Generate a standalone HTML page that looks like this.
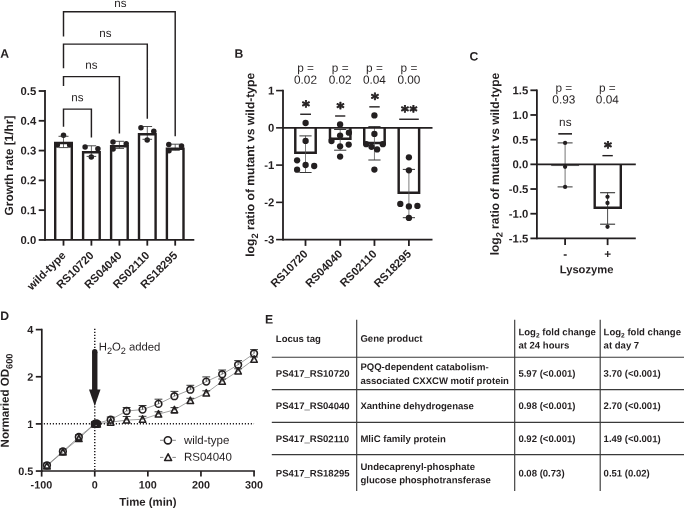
<!DOCTYPE html>
<html lang="en">
<head>
<meta charset="utf-8">
<title>Figure</title>
<style>
html,body{margin:0;padding:0;background:#fff;}
body{width:685px;height:509px;overflow:hidden;}
svg{display:block;font-family:"Liberation Sans",Arial,Helvetica,sans-serif;text-rendering:geometricPrecision;}
</style>
</head>
<body>
<svg width="685" height="509" viewBox="0 0 685 509">
<rect x="0" y="0" width="685" height="509" fill="#ffffff" stroke="none"/>
<g id="panelA">
<text transform="translate(0.20 57.70) rotate(0.03)" font-size="12.2" font-weight="bold" text-anchor="start" fill="#231f20" >A</text>
<path d="M55.20,239.95 L55.20,143.00 L71.80,143.00 L71.80,239.95" fill="#fff" stroke="#231f20" stroke-width="2.4" stroke-linejoin="miter"/>
<path d="M83.10,239.95 L83.10,152.30 L99.70,152.30 L99.70,239.95" fill="#fff" stroke="#231f20" stroke-width="2.4" stroke-linejoin="miter"/>
<path d="M111.10,239.95 L111.10,146.20 L127.70,146.20 L127.70,239.95" fill="#fff" stroke="#231f20" stroke-width="2.4" stroke-linejoin="miter"/>
<path d="M139.00,239.95 L139.00,134.30 L155.60,134.30 L155.60,239.95" fill="#fff" stroke="#231f20" stroke-width="2.4" stroke-linejoin="miter"/>
<path d="M166.90,239.95 L166.90,148.70 L183.50,148.70 L183.50,239.95" fill="#fff" stroke="#231f20" stroke-width="2.4" stroke-linejoin="miter"/>
<circle cx="63.50" cy="135.20" r="2.75" fill="#231f20"/>
<circle cx="57.30" cy="145.00" r="2.75" fill="#231f20"/>
<circle cx="69.70" cy="145.00" r="2.75" fill="#231f20"/>
<circle cx="85.10" cy="147.10" r="2.75" fill="#231f20"/>
<circle cx="97.90" cy="148.70" r="2.75" fill="#231f20"/>
<circle cx="91.30" cy="157.00" r="2.75" fill="#231f20"/>
<circle cx="113.00" cy="141.90" r="2.75" fill="#231f20"/>
<circle cx="113.10" cy="149.00" r="2.75" fill="#231f20"/>
<circle cx="126.20" cy="143.70" r="2.75" fill="#231f20"/>
<circle cx="140.95" cy="127.80" r="2.75" fill="#231f20"/>
<circle cx="153.80" cy="131.30" r="2.75" fill="#231f20"/>
<circle cx="147.20" cy="140.00" r="2.75" fill="#231f20"/>
<circle cx="168.80" cy="144.60" r="2.75" fill="#231f20"/>
<circle cx="169.00" cy="150.80" r="2.75" fill="#231f20"/>
<circle cx="181.50" cy="145.90" r="2.75" fill="#231f20"/>
<line x1="63.50" y1="136.30" x2="63.50" y2="147.60" stroke="#222" stroke-width="0.68" />
<line x1="58.50" y1="136.30" x2="68.50" y2="136.30" stroke="#333" stroke-width="0.8800000000000001" />
<line x1="58.50" y1="147.60" x2="68.50" y2="147.60" stroke="#333" stroke-width="0.8800000000000001" />
<line x1="91.40" y1="145.80" x2="91.40" y2="156.40" stroke="#222" stroke-width="0.68" />
<line x1="86.60" y1="145.80" x2="96.20" y2="145.80" stroke="#333" stroke-width="0.8800000000000001" />
<line x1="86.60" y1="156.40" x2="96.20" y2="156.40" stroke="#333" stroke-width="0.8800000000000001" />
<line x1="119.40" y1="141.30" x2="119.40" y2="148.40" stroke="#222" stroke-width="0.68" />
<line x1="114.80" y1="141.30" x2="124.00" y2="141.30" stroke="#333" stroke-width="0.8800000000000001" />
<line x1="114.80" y1="148.40" x2="124.00" y2="148.40" stroke="#333" stroke-width="0.8800000000000001" />
<line x1="147.30" y1="126.50" x2="147.30" y2="139.30" stroke="#222" stroke-width="0.68" />
<line x1="142.50" y1="126.50" x2="152.10" y2="126.50" stroke="#333" stroke-width="0.8800000000000001" />
<line x1="142.50" y1="139.30" x2="152.10" y2="139.30" stroke="#333" stroke-width="0.8800000000000001" />
<line x1="175.20" y1="144.20" x2="175.20" y2="150.30" stroke="#222" stroke-width="0.68" />
<line x1="170.60" y1="144.20" x2="179.80" y2="144.20" stroke="#333" stroke-width="0.8800000000000001" />
<line x1="170.60" y1="150.30" x2="179.80" y2="150.30" stroke="#333" stroke-width="0.8800000000000001" />
<line x1="45.00" y1="90.10" x2="45.00" y2="240.85" stroke="#231f20" stroke-width="1.8" />
<line x1="45.00" y1="239.95" x2="194.30" y2="239.95" stroke="#231f20" stroke-width="1.8" />
<line x1="38.70" y1="239.95" x2="45.00" y2="239.95" stroke="#231f20" stroke-width="1.8" />
<text transform="translate(36.30 243.95) rotate(0.03)" font-size="11.3" font-weight="bold" text-anchor="end" fill="#231f20" >0.0</text>
<line x1="38.70" y1="210.16" x2="45.00" y2="210.16" stroke="#231f20" stroke-width="1.8" />
<text transform="translate(36.30 214.16) rotate(0.03)" font-size="11.3" font-weight="bold" text-anchor="end" fill="#231f20" >0.1</text>
<line x1="38.70" y1="180.37" x2="45.00" y2="180.37" stroke="#231f20" stroke-width="1.8" />
<text transform="translate(36.30 184.37) rotate(0.03)" font-size="11.3" font-weight="bold" text-anchor="end" fill="#231f20" >0.2</text>
<line x1="38.70" y1="150.58" x2="45.00" y2="150.58" stroke="#231f20" stroke-width="1.8" />
<text transform="translate(36.30 154.58) rotate(0.03)" font-size="11.3" font-weight="bold" text-anchor="end" fill="#231f20" >0.3</text>
<line x1="38.70" y1="120.79" x2="45.00" y2="120.79" stroke="#231f20" stroke-width="1.8" />
<text transform="translate(36.30 124.79) rotate(0.03)" font-size="11.3" font-weight="bold" text-anchor="end" fill="#231f20" >0.4</text>
<line x1="38.70" y1="91.00" x2="45.00" y2="91.00" stroke="#231f20" stroke-width="1.8" />
<text transform="translate(36.30 95.00) rotate(0.03)" font-size="11.3" font-weight="bold" text-anchor="end" fill="#231f20" >0.5</text>
<line x1="63.50" y1="239.95" x2="63.50" y2="245.65" stroke="#231f20" stroke-width="1.8" />
<text transform="translate(66.50 256.05) rotate(-45)" font-size="11.3" font-weight="bold" text-anchor="end" fill="#231f20">wild-type</text>
<line x1="91.40" y1="239.95" x2="91.40" y2="245.65" stroke="#231f20" stroke-width="1.8" />
<text transform="translate(94.40 256.05) rotate(-45)" font-size="11.3" font-weight="bold" text-anchor="end" fill="#231f20">RS10720</text>
<line x1="119.40" y1="239.95" x2="119.40" y2="245.65" stroke="#231f20" stroke-width="1.8" />
<text transform="translate(122.40 256.05) rotate(-45)" font-size="11.3" font-weight="bold" text-anchor="end" fill="#231f20">RS04040</text>
<line x1="147.30" y1="239.95" x2="147.30" y2="245.65" stroke="#231f20" stroke-width="1.8" />
<text transform="translate(150.30 256.05) rotate(-45)" font-size="11.3" font-weight="bold" text-anchor="end" fill="#231f20">RS02110</text>
<line x1="175.20" y1="239.95" x2="175.20" y2="245.65" stroke="#231f20" stroke-width="1.8" />
<text transform="translate(178.20 256.05) rotate(-45)" font-size="11.3" font-weight="bold" text-anchor="end" fill="#231f20">RS18295</text>
<text transform="translate(13.10 165.50) rotate(-89.97)" font-size="11.9" font-weight="bold" text-anchor="middle" fill="#231f20">Growth rate [1/hr]</text>
<polyline points="63.50,126.80 63.50,109.10 91.40,109.10 91.40,137.60" fill="none" stroke="#231f20" stroke-width="1.45"/>
<text transform="translate(77.45 101.30) rotate(0.03)" font-size="11.6" font-weight="normal" text-anchor="middle" fill="#231f20" >ns</text>
<polyline points="63.50,86.00 63.50,76.60 119.40,76.60 119.40,133.50" fill="none" stroke="#231f20" stroke-width="1.45"/>
<text transform="translate(91.45 68.80) rotate(0.03)" font-size="11.6" font-weight="normal" text-anchor="middle" fill="#231f20" >ns</text>
<polyline points="63.50,68.30 63.50,44.10 147.30,44.10 147.30,118.70" fill="none" stroke="#231f20" stroke-width="1.45"/>
<text transform="translate(105.40 37.00) rotate(0.03)" font-size="11.6" font-weight="normal" text-anchor="middle" fill="#231f20" >ns</text>
<polyline points="63.50,36.50 63.50,11.80 175.20,11.80 175.20,136.20" fill="none" stroke="#231f20" stroke-width="1.45"/>
<text transform="translate(120.35 7.00) rotate(0.03)" font-size="11.6" font-weight="normal" text-anchor="middle" fill="#231f20" >ns</text>
</g>
<g id="panelB">
<text transform="translate(234.60 57.70) rotate(0.03)" font-size="12.2" font-weight="bold" text-anchor="start" fill="#231f20" >B</text>
<path d="M295.28,127.85 L295.28,152.78 L315.72,152.78 L315.72,127.85" fill="#fff" stroke="#231f20" stroke-width="2.45" stroke-linejoin="miter"/>
<path d="M329.98,127.85 L329.98,138.68 L350.42,138.68 L350.42,127.85" fill="#fff" stroke="#231f20" stroke-width="2.45" stroke-linejoin="miter"/>
<path d="M364.23,127.85 L364.23,143.08 L384.67,143.08 L384.67,127.85" fill="#fff" stroke="#231f20" stroke-width="2.45" stroke-linejoin="miter"/>
<path d="M398.68,127.85 L398.68,192.78 L419.12,192.78 L419.12,127.85" fill="#fff" stroke="#231f20" stroke-width="2.45" stroke-linejoin="miter"/>
<line x1="305.50" y1="135.90" x2="305.50" y2="172.50" stroke="#555" stroke-width="0.765" />
<line x1="299.40" y1="135.90" x2="311.60" y2="135.90" stroke="#333" stroke-width="0.9900000000000001" />
<line x1="299.40" y1="172.50" x2="311.60" y2="172.50" stroke="#333" stroke-width="0.9900000000000001" />
<line x1="340.20" y1="129.50" x2="340.20" y2="150.20" stroke="#555" stroke-width="0.765" />
<line x1="334.10" y1="129.50" x2="346.30" y2="129.50" stroke="#333" stroke-width="0.9900000000000001" />
<line x1="334.10" y1="150.20" x2="346.30" y2="150.20" stroke="#333" stroke-width="0.9900000000000001" />
<line x1="374.45" y1="126.60" x2="374.45" y2="160.00" stroke="#555" stroke-width="0.765" />
<line x1="368.35" y1="126.60" x2="380.55" y2="126.60" stroke="#333" stroke-width="0.9900000000000001" />
<line x1="368.35" y1="160.00" x2="380.55" y2="160.00" stroke="#333" stroke-width="0.9900000000000001" />
<line x1="408.90" y1="169.40" x2="408.90" y2="217.70" stroke="#555" stroke-width="0.765" />
<line x1="402.80" y1="169.40" x2="415.00" y2="169.40" stroke="#333" stroke-width="0.9900000000000001" />
<line x1="402.80" y1="217.70" x2="415.00" y2="217.70" stroke="#333" stroke-width="0.9900000000000001" />
<circle cx="305.60" cy="123.00" r="3.15" fill="#231f20"/>
<circle cx="305.60" cy="140.90" r="3.15" fill="#231f20"/>
<circle cx="297.10" cy="160.30" r="3.15" fill="#231f20"/>
<circle cx="297.10" cy="169.70" r="3.15" fill="#231f20"/>
<circle cx="305.60" cy="165.00" r="3.15" fill="#231f20"/>
<circle cx="314.20" cy="166.00" r="3.15" fill="#231f20"/>
<circle cx="340.10" cy="124.40" r="3.15" fill="#231f20"/>
<circle cx="340.10" cy="135.60" r="3.15" fill="#231f20"/>
<circle cx="348.90" cy="132.70" r="3.15" fill="#231f20"/>
<circle cx="331.50" cy="141.00" r="3.15" fill="#231f20"/>
<circle cx="340.10" cy="146.30" r="3.15" fill="#231f20"/>
<circle cx="348.70" cy="144.60" r="3.15" fill="#231f20"/>
<circle cx="340.10" cy="156.60" r="3.15" fill="#231f20"/>
<circle cx="374.40" cy="115.40" r="3.15" fill="#231f20"/>
<circle cx="374.40" cy="133.90" r="3.15" fill="#231f20"/>
<circle cx="366.20" cy="144.20" r="3.15" fill="#231f20"/>
<circle cx="382.80" cy="144.20" r="3.15" fill="#231f20"/>
<circle cx="371.50" cy="146.80" r="3.15" fill="#231f20"/>
<circle cx="377.10" cy="149.40" r="3.15" fill="#231f20"/>
<circle cx="374.40" cy="169.55" r="3.15" fill="#231f20"/>
<circle cx="408.90" cy="157.30" r="3.15" fill="#231f20"/>
<circle cx="408.90" cy="170.30" r="3.15" fill="#231f20"/>
<circle cx="400.30" cy="203.90" r="3.15" fill="#231f20"/>
<circle cx="408.90" cy="206.40" r="3.15" fill="#231f20"/>
<circle cx="417.40" cy="205.90" r="3.15" fill="#231f20"/>
<circle cx="408.90" cy="217.90" r="3.15" fill="#231f20"/>
<line x1="283.00" y1="89.70" x2="283.00" y2="240.50" stroke="#231f20" stroke-width="1.8" />
<line x1="283.00" y1="127.85" x2="432.50" y2="127.85" stroke="#231f20" stroke-width="1.8" />
<line x1="283.00" y1="239.60" x2="432.50" y2="239.60" stroke="#231f20" stroke-width="1.8" />
<line x1="276.10" y1="90.60" x2="283.00" y2="90.60" stroke="#231f20" stroke-width="1.6" />
<text transform="translate(274.30 94.50) rotate(0.03)" font-size="11.3" font-weight="bold" text-anchor="end" fill="#231f20" >1</text>
<line x1="276.10" y1="127.85" x2="283.00" y2="127.85" stroke="#231f20" stroke-width="1.6" />
<text transform="translate(274.30 131.75) rotate(0.03)" font-size="11.3" font-weight="bold" text-anchor="end" fill="#231f20" >0</text>
<line x1="276.10" y1="165.10" x2="283.00" y2="165.10" stroke="#231f20" stroke-width="1.6" />
<text transform="translate(274.30 169.00) rotate(0.03)" font-size="11.3" font-weight="bold" text-anchor="end" fill="#231f20" >-1</text>
<line x1="276.10" y1="202.35" x2="283.00" y2="202.35" stroke="#231f20" stroke-width="1.6" />
<text transform="translate(274.30 206.25) rotate(0.03)" font-size="11.3" font-weight="bold" text-anchor="end" fill="#231f20" >-2</text>
<line x1="276.10" y1="239.60" x2="283.00" y2="239.60" stroke="#231f20" stroke-width="1.6" />
<text transform="translate(274.30 243.50) rotate(0.03)" font-size="11.3" font-weight="bold" text-anchor="end" fill="#231f20" >-3</text>
<line x1="305.50" y1="239.60" x2="305.50" y2="245.90" stroke="#231f20" stroke-width="1.8" />
<text transform="translate(308.50 254.60) rotate(-45)" font-size="11.3" font-weight="bold" text-anchor="end" fill="#231f20">RS10720</text>
<line x1="340.20" y1="239.60" x2="340.20" y2="245.90" stroke="#231f20" stroke-width="1.8" />
<text transform="translate(343.20 254.60) rotate(-45)" font-size="11.3" font-weight="bold" text-anchor="end" fill="#231f20">RS04040</text>
<line x1="374.45" y1="239.60" x2="374.45" y2="245.90" stroke="#231f20" stroke-width="1.8" />
<text transform="translate(377.45 254.60) rotate(-45)" font-size="11.3" font-weight="bold" text-anchor="end" fill="#231f20">RS02110</text>
<line x1="408.90" y1="239.60" x2="408.90" y2="245.90" stroke="#231f20" stroke-width="1.8" />
<text transform="translate(411.90 254.60) rotate(-45)" font-size="11.3" font-weight="bold" text-anchor="end" fill="#231f20">RS18295</text>
<text transform="translate(254.30 164.80) rotate(-89.97)" font-size="12.1" font-weight="bold" text-anchor="middle" fill="#231f20">log<tspan font-size="9.32" dy="3.7">2</tspan><tspan dy="-3.7"> ratio of mutant vs wild-type</tspan></text>
<text transform="translate(305.50 71.80) rotate(0.03)" font-size="11.8" font-weight="normal" text-anchor="middle" fill="#231f20" >p =</text>
<text transform="translate(305.50 83.80) rotate(0.03)" font-size="11.8" font-weight="normal" text-anchor="middle" fill="#231f20" >0.02</text>
<text transform="translate(340.20 71.80) rotate(0.03)" font-size="11.8" font-weight="normal" text-anchor="middle" fill="#231f20" >p =</text>
<text transform="translate(340.20 83.80) rotate(0.03)" font-size="11.8" font-weight="normal" text-anchor="middle" fill="#231f20" >0.02</text>
<text transform="translate(374.45 71.80) rotate(0.03)" font-size="11.8" font-weight="normal" text-anchor="middle" fill="#231f20" >p =</text>
<text transform="translate(374.45 83.80) rotate(0.03)" font-size="11.8" font-weight="normal" text-anchor="middle" fill="#231f20" >0.04</text>
<text transform="translate(408.90 71.80) rotate(0.03)" font-size="11.8" font-weight="normal" text-anchor="middle" fill="#231f20" >p =</text>
<text transform="translate(408.90 83.80) rotate(0.03)" font-size="11.8" font-weight="normal" text-anchor="middle" fill="#231f20" >0.00</text>
<line x1="300.20" y1="114.25" x2="311.00" y2="114.25" stroke="#231f20" stroke-width="1.4" />
<text transform="translate(305.90 111.50) rotate(0.03)" font-family="DejaVu Sans, sans-serif" font-size="15" font-weight="bold" text-anchor="middle" fill="#231f20" stroke="#231f20" stroke-width="0.8" stroke-linejoin="round">*</text>
<line x1="335.10" y1="116.00" x2="345.30" y2="116.00" stroke="#231f20" stroke-width="1.4" />
<text transform="translate(340.50 113.25) rotate(0.03)" font-family="DejaVu Sans, sans-serif" font-size="15" font-weight="bold" text-anchor="middle" fill="#231f20" stroke="#231f20" stroke-width="0.8" stroke-linejoin="round">*</text>
<line x1="369.30" y1="106.85" x2="379.70" y2="106.85" stroke="#231f20" stroke-width="1.4" />
<text transform="translate(374.80 104.10) rotate(0.03)" font-family="DejaVu Sans, sans-serif" font-size="15" font-weight="bold" text-anchor="middle" fill="#231f20" stroke="#231f20" stroke-width="0.8" stroke-linejoin="round">*</text>
<line x1="399.20" y1="119.25" x2="418.80" y2="119.25" stroke="#231f20" stroke-width="1.4" />
<text transform="translate(409.50 116.50) rotate(0.03)" font-family="DejaVu Sans, sans-serif" font-size="15" font-weight="bold" text-anchor="middle" fill="#231f20" stroke="#231f20" stroke-width="0.8" stroke-linejoin="round" letter-spacing="0.6">**</text>
</g>
<g id="panelC">
<text transform="translate(469.60 60.60) rotate(0.03)" font-size="12.2" font-weight="bold" text-anchor="start" fill="#231f20" >C</text>
<rect x="551.2" y="164.35" width="27.9" height="1.7" fill="#666"/>
<path d="M594.70,164.35 L594.70,207.70 L620.80,207.70 L620.80,164.35" fill="#fff" stroke="#231f20" stroke-width="2.4" stroke-linejoin="miter"/>
<line x1="565.10" y1="142.90" x2="565.10" y2="186.90" stroke="#4a4a4a" stroke-width="0.765" />
<line x1="557.60" y1="142.90" x2="572.60" y2="142.90" stroke="#333" stroke-width="0.9900000000000001" />
<line x1="557.60" y1="186.90" x2="572.60" y2="186.90" stroke="#333" stroke-width="0.9900000000000001" />
<line x1="607.60" y1="192.70" x2="607.60" y2="224.20" stroke="#2a2a2a" stroke-width="0.85" />
<line x1="600.10" y1="192.70" x2="615.10" y2="192.70" stroke="#333" stroke-width="1.1" />
<line x1="600.10" y1="224.20" x2="615.10" y2="224.20" stroke="#333" stroke-width="1.1" />
<circle cx="565.10" cy="142.90" r="2.15" fill="#231f20"/>
<circle cx="565.10" cy="166.80" r="2.15" fill="#231f20"/>
<circle cx="565.10" cy="186.90" r="2.15" fill="#231f20"/>
<circle cx="607.50" cy="196.80" r="2.15" fill="#231f20"/>
<circle cx="607.50" cy="203.00" r="2.15" fill="#231f20"/>
<circle cx="607.50" cy="226.80" r="2.15" fill="#231f20"/>
<line x1="536.90" y1="89.40" x2="536.90" y2="239.30" stroke="#231f20" stroke-width="1.8" />
<line x1="536.90" y1="164.35" x2="635.80" y2="164.35" stroke="#231f20" stroke-width="1.8" />
<line x1="536.90" y1="238.40" x2="635.80" y2="238.40" stroke="#231f20" stroke-width="1.8" />
<line x1="530.40" y1="90.30" x2="536.90" y2="90.30" stroke="#231f20" stroke-width="1.8" />
<text transform="translate(528.30 94.30) rotate(0.03)" font-size="11.3" font-weight="bold" text-anchor="end" fill="#231f20" >1.5</text>
<line x1="530.40" y1="114.98" x2="536.90" y2="114.98" stroke="#231f20" stroke-width="1.8" />
<text transform="translate(528.30 118.98) rotate(0.03)" font-size="11.3" font-weight="bold" text-anchor="end" fill="#231f20" >1.0</text>
<line x1="530.40" y1="139.67" x2="536.90" y2="139.67" stroke="#231f20" stroke-width="1.8" />
<text transform="translate(528.30 143.67) rotate(0.03)" font-size="11.3" font-weight="bold" text-anchor="end" fill="#231f20" >0.5</text>
<line x1="530.40" y1="164.35" x2="536.90" y2="164.35" stroke="#231f20" stroke-width="1.8" />
<text transform="translate(528.30 168.35) rotate(0.03)" font-size="11.3" font-weight="bold" text-anchor="end" fill="#231f20" >0.0</text>
<line x1="530.40" y1="189.03" x2="536.90" y2="189.03" stroke="#231f20" stroke-width="1.8" />
<text transform="translate(528.30 193.03) rotate(0.03)" font-size="11.3" font-weight="bold" text-anchor="end" fill="#231f20" >-0.5</text>
<line x1="530.40" y1="213.72" x2="536.90" y2="213.72" stroke="#231f20" stroke-width="1.8" />
<text transform="translate(528.30 217.72) rotate(0.03)" font-size="11.3" font-weight="bold" text-anchor="end" fill="#231f20" >-1.0</text>
<line x1="530.40" y1="238.40" x2="536.90" y2="238.40" stroke="#231f20" stroke-width="1.8" />
<text transform="translate(528.30 242.40) rotate(0.03)" font-size="11.3" font-weight="bold" text-anchor="end" fill="#231f20" >-1.5</text>
<line x1="565.10" y1="238.40" x2="565.10" y2="245.10" stroke="#231f20" stroke-width="1.8" />
<text transform="translate(565.10 257.90) rotate(0.03)" font-size="11.8" font-weight="bold" text-anchor="middle" fill="#231f20" >-</text>
<line x1="607.60" y1="238.40" x2="607.60" y2="245.10" stroke="#231f20" stroke-width="1.8" />
<text transform="translate(607.60 257.90) rotate(0.03)" font-size="11.8" font-weight="bold" text-anchor="middle" fill="#231f20" >+</text>
<text transform="translate(586.60 273.30) rotate(0.03)" font-size="11.2" font-weight="bold" text-anchor="middle" fill="#231f20" >Lysozyme</text>
<text transform="translate(498.90 164.10) rotate(-89.97)" font-size="12.0" font-weight="bold" text-anchor="middle" fill="#231f20">log<tspan font-size="9.24" dy="3.7">2</tspan><tspan dy="-3.7"> ratio of mutant vs wild-type</tspan></text>
<text transform="translate(563.80 91.70) rotate(0.03)" font-size="11.8" font-weight="normal" text-anchor="middle" fill="#231f20" >p =</text>
<text transform="translate(563.80 103.60) rotate(0.03)" font-size="11.8" font-weight="normal" text-anchor="middle" fill="#231f20" >0.93</text>
<text transform="translate(607.30 91.70) rotate(0.03)" font-size="11.8" font-weight="normal" text-anchor="middle" fill="#231f20" >p =</text>
<text transform="translate(607.30 103.60) rotate(0.03)" font-size="11.8" font-weight="normal" text-anchor="middle" fill="#231f20" >0.04</text>
<text transform="translate(565.30 126.10) rotate(0.03)" font-size="11.8" font-weight="normal" text-anchor="middle" fill="#231f20" >ns</text>
<line x1="558.30" y1="133.85" x2="572.00" y2="133.85" stroke="#231f20" stroke-width="1.6" />
<line x1="602.40" y1="155.65" x2="612.80" y2="155.65" stroke="#231f20" stroke-width="1.4" />
<text transform="translate(608.00 152.60) rotate(0.03)" font-family="DejaVu Sans, sans-serif" font-size="15" font-weight="bold" text-anchor="middle" fill="#231f20" stroke="#231f20" stroke-width="0.8" stroke-linejoin="round">*</text>
</g>
<g id="panelD">
<text transform="translate(0.30 320.00) rotate(0.03)" font-size="12.2" font-weight="bold" text-anchor="start" fill="#231f20" >D</text>
<line x1="94.75" y1="328.80" x2="94.75" y2="471.00" stroke="#231f20" stroke-width="1.5" stroke-dasharray="1.2 1.78"/>
<line x1="43.80" y1="423.85" x2="254.05" y2="423.85" stroke="#231f20" stroke-width="1.5" stroke-dasharray="1.2 1.8"/>
<polyline points="46.96,465.30 62.89,451.40 78.82,437.00 94.75,423.90 110.68,419.70 126.61,411.00 142.54,409.60 158.47,403.90 174.40,396.20 190.33,389.70 206.26,381.60 222.19,374.20 238.12,364.80 254.05,353.50" fill="none" stroke="#555" stroke-width="0.55"/>
<polyline points="46.96,466.00 62.89,452.00 78.82,438.60 94.75,424.00 110.68,422.20 126.61,420.10 142.54,419.30 158.47,414.10 174.40,409.90 190.33,400.60 206.26,393.10 222.19,381.30 238.12,371.10 254.05,359.30" fill="none" stroke="#555" stroke-width="0.55"/>
<line x1="110.68" y1="419.70" x2="110.68" y2="417.00" stroke="#222" stroke-width="0.8" />
<line x1="106.78" y1="417.00" x2="114.58" y2="417.00" stroke="#222" stroke-width="0.9" />
<line x1="126.61" y1="411.00" x2="126.61" y2="407.50" stroke="#222" stroke-width="0.8" />
<line x1="122.71" y1="407.50" x2="130.51" y2="407.50" stroke="#222" stroke-width="0.9" />
<line x1="142.54" y1="409.60" x2="142.54" y2="405.50" stroke="#222" stroke-width="0.8" />
<line x1="138.64" y1="405.50" x2="146.44" y2="405.50" stroke="#222" stroke-width="0.9" />
<line x1="158.47" y1="403.90" x2="158.47" y2="399.20" stroke="#222" stroke-width="0.8" />
<line x1="154.57" y1="399.20" x2="162.37" y2="399.20" stroke="#222" stroke-width="0.9" />
<line x1="174.40" y1="396.20" x2="174.40" y2="391.40" stroke="#222" stroke-width="0.8" />
<line x1="170.50" y1="391.40" x2="178.30" y2="391.40" stroke="#222" stroke-width="0.9" />
<line x1="190.33" y1="389.70" x2="190.33" y2="385.30" stroke="#222" stroke-width="0.8" />
<line x1="186.43" y1="385.30" x2="194.23" y2="385.30" stroke="#222" stroke-width="0.9" />
<line x1="206.26" y1="381.60" x2="206.26" y2="376.90" stroke="#222" stroke-width="0.8" />
<line x1="202.36" y1="376.90" x2="210.16" y2="376.90" stroke="#222" stroke-width="0.9" />
<line x1="222.19" y1="374.20" x2="222.19" y2="370.00" stroke="#222" stroke-width="0.8" />
<line x1="218.29" y1="370.00" x2="226.09" y2="370.00" stroke="#222" stroke-width="0.9" />
<line x1="238.12" y1="364.80" x2="238.12" y2="360.60" stroke="#222" stroke-width="0.8" />
<line x1="234.22" y1="360.60" x2="242.02" y2="360.60" stroke="#222" stroke-width="0.9" />
<line x1="254.05" y1="353.50" x2="254.05" y2="349.60" stroke="#222" stroke-width="0.8" />
<line x1="250.15" y1="349.60" x2="257.95" y2="349.60" stroke="#222" stroke-width="0.9" />
<line x1="126.61" y1="420.10" x2="126.61" y2="416.50" stroke="#222" stroke-width="0.8" />
<line x1="122.71" y1="416.50" x2="130.51" y2="416.50" stroke="#222" stroke-width="0.9" />
<line x1="142.54" y1="419.30" x2="142.54" y2="416.30" stroke="#222" stroke-width="0.8" />
<line x1="138.64" y1="416.30" x2="146.44" y2="416.30" stroke="#222" stroke-width="0.9" />
<line x1="158.47" y1="414.10" x2="158.47" y2="411.80" stroke="#222" stroke-width="0.8" />
<line x1="154.57" y1="411.80" x2="162.37" y2="411.80" stroke="#222" stroke-width="0.9" />
<line x1="174.40" y1="409.90" x2="174.40" y2="407.60" stroke="#222" stroke-width="0.8" />
<line x1="170.50" y1="407.60" x2="178.30" y2="407.60" stroke="#222" stroke-width="0.9" />
<line x1="190.33" y1="400.60" x2="190.33" y2="398.30" stroke="#222" stroke-width="0.8" />
<line x1="186.43" y1="398.30" x2="194.23" y2="398.30" stroke="#222" stroke-width="0.9" />
<line x1="206.26" y1="393.10" x2="206.26" y2="390.80" stroke="#222" stroke-width="0.8" />
<line x1="202.36" y1="390.80" x2="210.16" y2="390.80" stroke="#222" stroke-width="0.9" />
<line x1="222.19" y1="381.30" x2="222.19" y2="379.00" stroke="#222" stroke-width="0.8" />
<line x1="218.29" y1="379.00" x2="226.09" y2="379.00" stroke="#222" stroke-width="0.9" />
<line x1="238.12" y1="371.10" x2="238.12" y2="368.80" stroke="#222" stroke-width="0.8" />
<line x1="234.22" y1="368.80" x2="242.02" y2="368.80" stroke="#222" stroke-width="0.9" />
<line x1="254.05" y1="359.30" x2="254.05" y2="357.00" stroke="#222" stroke-width="0.8" />
<line x1="250.15" y1="357.00" x2="257.95" y2="357.00" stroke="#222" stroke-width="0.9" />
<line x1="43.36" y1="462.90" x2="50.56" y2="462.90" stroke="#222" stroke-width="0.9" />
<line x1="43.36" y1="467.90" x2="50.56" y2="467.90" stroke="#222" stroke-width="0.9" />
<line x1="59.29" y1="449.00" x2="66.49" y2="449.00" stroke="#222" stroke-width="0.9" />
<line x1="59.29" y1="454.00" x2="66.49" y2="454.00" stroke="#222" stroke-width="0.9" />
<line x1="75.22" y1="434.60" x2="82.42" y2="434.60" stroke="#222" stroke-width="0.9" />
<line x1="75.22" y1="439.60" x2="82.42" y2="439.60" stroke="#222" stroke-width="0.9" />
<line x1="91.15" y1="421.50" x2="98.35" y2="421.50" stroke="#222" stroke-width="0.9" />
<line x1="91.15" y1="426.50" x2="98.35" y2="426.50" stroke="#222" stroke-width="0.9" />
<line x1="92.40" y1="421.60" x2="99.60" y2="421.60" stroke="#222" stroke-width="0.9" />
<line x1="92.40" y1="426.60" x2="99.60" y2="426.60" stroke="#222" stroke-width="0.9" />
<polygon points="96.00,420.60 99.25,427.05 92.75,427.05" fill="none" stroke="#231f20" stroke-width="1.55" stroke-linejoin="round"/>
<circle cx="96.00" cy="423.70" r="3.35" fill="none" stroke="#231f20" stroke-width="1.6"/>
<line x1="93.60" y1="421.60" x2="100.80" y2="421.60" stroke="#222" stroke-width="0.9" />
<line x1="93.60" y1="426.60" x2="100.80" y2="426.60" stroke="#222" stroke-width="0.9" />
<polygon points="97.20,420.60 100.45,427.05 93.95,427.05" fill="none" stroke="#231f20" stroke-width="1.55" stroke-linejoin="round"/>
<circle cx="97.20" cy="423.70" r="3.35" fill="none" stroke="#231f20" stroke-width="1.6"/>
<polygon points="46.96,462.50 50.21,468.95 43.71,468.95" fill="none" stroke="#231f20" stroke-width="1.55" stroke-linejoin="round"/>
<polygon points="62.89,448.50 66.14,454.95 59.64,454.95" fill="none" stroke="#231f20" stroke-width="1.55" stroke-linejoin="round"/>
<polygon points="78.82,435.10 82.07,441.55 75.57,441.55" fill="none" stroke="#231f20" stroke-width="1.55" stroke-linejoin="round"/>
<polygon points="94.75,420.50 98.00,426.95 91.50,426.95" fill="none" stroke="#231f20" stroke-width="1.55" stroke-linejoin="round"/>
<polygon points="110.68,418.70 113.93,425.15 107.43,425.15" fill="none" stroke="#231f20" stroke-width="1.55" stroke-linejoin="round"/>
<polygon points="126.61,416.60 129.86,423.05 123.36,423.05" fill="none" stroke="#231f20" stroke-width="1.55" stroke-linejoin="round"/>
<polygon points="142.54,415.80 145.79,422.25 139.29,422.25" fill="none" stroke="#231f20" stroke-width="1.55" stroke-linejoin="round"/>
<polygon points="158.47,410.60 161.72,417.05 155.22,417.05" fill="none" stroke="#231f20" stroke-width="1.55" stroke-linejoin="round"/>
<polygon points="174.40,406.40 177.65,412.85 171.15,412.85" fill="none" stroke="#231f20" stroke-width="1.55" stroke-linejoin="round"/>
<polygon points="190.33,397.10 193.58,403.55 187.08,403.55" fill="none" stroke="#231f20" stroke-width="1.55" stroke-linejoin="round"/>
<polygon points="206.26,389.60 209.51,396.05 203.01,396.05" fill="none" stroke="#231f20" stroke-width="1.55" stroke-linejoin="round"/>
<polygon points="222.19,377.80 225.44,384.25 218.94,384.25" fill="none" stroke="#231f20" stroke-width="1.55" stroke-linejoin="round"/>
<polygon points="238.12,367.60 241.37,374.05 234.87,374.05" fill="none" stroke="#231f20" stroke-width="1.55" stroke-linejoin="round"/>
<polygon points="254.05,355.80 257.30,362.25 250.80,362.25" fill="none" stroke="#231f20" stroke-width="1.55" stroke-linejoin="round"/>
<circle cx="46.96" cy="465.30" r="3.35" fill="none" stroke="#231f20" stroke-width="1.6"/>
<circle cx="62.89" cy="451.40" r="3.35" fill="none" stroke="#231f20" stroke-width="1.6"/>
<circle cx="78.82" cy="437.00" r="3.35" fill="none" stroke="#231f20" stroke-width="1.6"/>
<circle cx="94.75" cy="423.90" r="3.35" fill="none" stroke="#231f20" stroke-width="1.6"/>
<circle cx="110.68" cy="419.70" r="3.35" fill="none" stroke="#231f20" stroke-width="1.6"/>
<circle cx="126.61" cy="411.00" r="3.35" fill="none" stroke="#231f20" stroke-width="1.6"/>
<circle cx="142.54" cy="409.60" r="3.35" fill="none" stroke="#231f20" stroke-width="1.6"/>
<circle cx="158.47" cy="403.90" r="3.35" fill="none" stroke="#231f20" stroke-width="1.6"/>
<circle cx="174.40" cy="396.20" r="3.35" fill="none" stroke="#231f20" stroke-width="1.6"/>
<circle cx="190.33" cy="389.70" r="3.35" fill="none" stroke="#231f20" stroke-width="1.6"/>
<circle cx="206.26" cy="381.60" r="3.35" fill="none" stroke="#231f20" stroke-width="1.6"/>
<circle cx="222.19" cy="374.20" r="3.35" fill="none" stroke="#231f20" stroke-width="1.6"/>
<circle cx="238.12" cy="364.80" r="3.35" fill="none" stroke="#231f20" stroke-width="1.6"/>
<circle cx="254.05" cy="353.50" r="3.35" fill="none" stroke="#231f20" stroke-width="1.6"/>
<line x1="41.80" y1="328.75" x2="41.80" y2="471.85" stroke="#231f20" stroke-width="1.7" />
<line x1="41.80" y1="471.00" x2="254.90" y2="471.00" stroke="#231f20" stroke-width="1.7" />
<line x1="35.80" y1="329.60" x2="41.80" y2="329.60" stroke="#231f20" stroke-width="1.7" />
<text transform="translate(33.30 333.60) rotate(0.03)" font-size="10.9" font-weight="bold" text-anchor="end" fill="#231f20" >4</text>
<line x1="35.80" y1="376.75" x2="41.80" y2="376.75" stroke="#231f20" stroke-width="1.7" />
<text transform="translate(33.30 380.75) rotate(0.03)" font-size="10.9" font-weight="bold" text-anchor="end" fill="#231f20" >2</text>
<line x1="35.80" y1="423.90" x2="41.80" y2="423.90" stroke="#231f20" stroke-width="1.7" />
<text transform="translate(33.30 427.90) rotate(0.03)" font-size="10.9" font-weight="bold" text-anchor="end" fill="#231f20" >1</text>
<line x1="35.80" y1="471.05" x2="41.80" y2="471.05" stroke="#231f20" stroke-width="1.7" />
<text transform="translate(33.30 475.05) rotate(0.03)" font-size="10.9" font-weight="bold" text-anchor="end" fill="#231f20" >0.5</text>
<line x1="41.65" y1="471.00" x2="41.65" y2="476.60" stroke="#231f20" stroke-width="1.7" />
<text transform="translate(41.35 488.40) rotate(0.03)" font-size="10.8" font-weight="bold" text-anchor="middle" fill="#231f20" >-100</text>
<line x1="94.75" y1="471.00" x2="94.75" y2="476.60" stroke="#231f20" stroke-width="1.7" />
<text transform="translate(94.75 488.40) rotate(0.03)" font-size="10.8" font-weight="bold" text-anchor="middle" fill="#231f20" >0</text>
<line x1="147.85" y1="471.00" x2="147.85" y2="476.60" stroke="#231f20" stroke-width="1.7" />
<text transform="translate(147.85 488.40) rotate(0.03)" font-size="10.8" font-weight="bold" text-anchor="middle" fill="#231f20" >100</text>
<line x1="200.95" y1="471.00" x2="200.95" y2="476.60" stroke="#231f20" stroke-width="1.7" />
<text transform="translate(200.95 488.40) rotate(0.03)" font-size="10.8" font-weight="bold" text-anchor="middle" fill="#231f20" >200</text>
<line x1="254.05" y1="471.00" x2="254.05" y2="476.60" stroke="#231f20" stroke-width="1.7" />
<text transform="translate(254.05 488.40) rotate(0.03)" font-size="10.8" font-weight="bold" text-anchor="middle" fill="#231f20" >300</text>
<text transform="translate(147.90 505.80) rotate(0.03)" font-size="11.4" font-weight="bold" text-anchor="middle" fill="#231f20" >Time (min)</text>
<text transform="translate(8.8 400.5) rotate(-89.97)" font-size="11.6" font-weight="bold" text-anchor="middle" fill="#231f20">Normaried OD<tspan font-size="9.2" dy="3.6">600</tspan></text>
<line x1="94.75" y1="351.80" x2="94.75" y2="392.00" stroke="#231f20" stroke-width="5.4" />
<circle cx="94.75" cy="351.8" r="2.7" fill="#231f20"/>
<polygon points="89.0,389.6 100.5,389.6 94.75,406.0" fill="#231f20"/>
<text transform="translate(98.8 350.6) rotate(0.03)" font-size="11.35" letter-spacing="-0.06" fill="#231f20">H<tspan font-size="9.2" dy="3.5">2</tspan><tspan dy="-3.5">O</tspan><tspan font-size="9.2" dy="3.5">2</tspan><tspan dy="-3.5"> added</tspan></text>
<line x1="160.00" y1="440.30" x2="163.40" y2="440.30" stroke="#666" stroke-width="0.8" />
<line x1="172.40" y1="440.30" x2="175.90" y2="440.30" stroke="#666" stroke-width="0.8" />
<circle cx="167.90" cy="440.30" r="3.6" fill="none" stroke="#231f20" stroke-width="1.6"/>
<text transform="translate(183.90 444.00) rotate(0.03)" font-size="11.5" font-weight="normal" text-anchor="start" fill="#231f20" >wild-type</text>
<line x1="160.00" y1="457.40" x2="163.40" y2="457.40" stroke="#666" stroke-width="0.8" />
<line x1="172.40" y1="457.40" x2="175.90" y2="457.40" stroke="#666" stroke-width="0.8" />
<polygon points="168.1,453.8 171.6,460.5 164.6,460.5" fill="none" stroke="#231f20" stroke-width="1.6" stroke-linejoin="round"/>
<text transform="translate(183.90 460.70) rotate(0.03)" font-size="11.5" font-weight="normal" text-anchor="start" fill="#231f20" >RS04040</text>
</g>
<g id="panelE">
<text transform="translate(264.90 323.40) rotate(0.03)" font-size="12.2" font-weight="bold" text-anchor="start" fill="#231f20" >E</text>
<line x1="356.70" y1="319.70" x2="356.70" y2="491.00" stroke="#3a3a3a" stroke-width="1.15" />
<line x1="514.70" y1="319.70" x2="514.70" y2="491.00" stroke="#3a3a3a" stroke-width="1.15" />
<line x1="600.20" y1="319.70" x2="600.20" y2="491.00" stroke="#3a3a3a" stroke-width="1.15" />
<line x1="271.80" y1="357.20" x2="684.00" y2="357.20" stroke="#3a3a3a" stroke-width="1.15" />
<line x1="271.80" y1="389.60" x2="684.00" y2="389.60" stroke="#3a3a3a" stroke-width="1.15" />
<line x1="271.80" y1="422.35" x2="684.00" y2="422.35" stroke="#3a3a3a" stroke-width="1.15" />
<line x1="271.80" y1="454.60" x2="684.00" y2="454.60" stroke="#3a3a3a" stroke-width="1.15" />
<text transform="translate(275.80 342.00) rotate(0.03)" font-size="9.56" font-weight="bold" text-anchor="start" fill="#231f20" >Locus tag</text>
<text transform="translate(360.40 341.80) rotate(0.03)" font-size="9.56" font-weight="bold" text-anchor="start" fill="#231f20" >Gene product</text>
<text transform="translate(518.4 335.2) rotate(0.03)" font-size="9.56" font-weight="bold" fill="#231f20">Log<tspan font-size="6.6" dy="2.2">2</tspan><tspan dy="-2.2"> fold change</tspan></text>
<text transform="translate(603.6 335.2) rotate(0.03)" font-size="9.56" font-weight="bold" fill="#231f20">Log<tspan font-size="6.6" dy="2.2">2</tspan><tspan dy="-2.2"> fold change</tspan></text>
<text transform="translate(518.40 348.60) rotate(0.03)" font-size="9.56" font-weight="bold" text-anchor="start" fill="#231f20" >at 24 hours</text>
<text transform="translate(603.60 348.60) rotate(0.03)" font-size="9.56" font-weight="bold" text-anchor="start" fill="#231f20" >at day 7</text>
<text transform="translate(275.80 376.80) rotate(0.03)" font-size="9.56" font-weight="bold" text-anchor="start" fill="#231f20" >PS417_RS10720</text>
<text transform="translate(360.40 370.10) rotate(0.03)" font-size="9.56" font-weight="bold" text-anchor="start" fill="#231f20" >PQQ-dependent catabolism-</text>
<text transform="translate(360.40 384.00) rotate(0.03)" font-size="9.56" font-weight="bold" text-anchor="start" fill="#231f20" >associated CXXCW motif protein</text>
<text transform="translate(518.40 376.80) rotate(0.03)" font-size="9.56" font-weight="bold" text-anchor="start" fill="#231f20" >5.97 (&lt;0.001)</text>
<text transform="translate(603.60 376.80) rotate(0.03)" font-size="9.56" font-weight="bold" text-anchor="start" fill="#231f20" >3.70 (&lt;0.001)</text>
<text transform="translate(275.80 409.10) rotate(0.03)" font-size="9.56" font-weight="bold" text-anchor="start" fill="#231f20" >PS417_RS04040</text>
<text transform="translate(360.40 409.10) rotate(0.03)" font-size="9.56" font-weight="bold" text-anchor="start" fill="#231f20" >Xanthine dehydrogenase</text>
<text transform="translate(518.40 409.10) rotate(0.03)" font-size="9.56" font-weight="bold" text-anchor="start" fill="#231f20" >0.98 (&lt;0.001)</text>
<text transform="translate(603.60 409.10) rotate(0.03)" font-size="9.56" font-weight="bold" text-anchor="start" fill="#231f20" >2.70 (&lt;0.001)</text>
<text transform="translate(275.80 442.10) rotate(0.03)" font-size="9.56" font-weight="bold" text-anchor="start" fill="#231f20" >PS417_RS02110</text>
<text transform="translate(360.40 442.10) rotate(0.03)" font-size="9.56" font-weight="bold" text-anchor="start" fill="#231f20" >MliC family protein</text>
<text transform="translate(518.40 442.10) rotate(0.03)" font-size="9.56" font-weight="bold" text-anchor="start" fill="#231f20" >0.92 (&lt;0.001)</text>
<text transform="translate(603.60 442.10) rotate(0.03)" font-size="9.56" font-weight="bold" text-anchor="start" fill="#231f20" >1.49 (&lt;0.001)</text>
<text transform="translate(275.80 476.40) rotate(0.03)" font-size="9.56" font-weight="bold" text-anchor="start" fill="#231f20" >PS417_RS18295</text>
<text transform="translate(360.40 469.90) rotate(0.03)" font-size="9.56" font-weight="bold" text-anchor="start" fill="#231f20" >Undecaprenyl-phosphate</text>
<text transform="translate(360.40 483.20) rotate(0.03)" font-size="9.56" font-weight="bold" text-anchor="start" fill="#231f20" >glucose phosphotransferase</text>
<text transform="translate(518.40 476.40) rotate(0.03)" font-size="9.56" font-weight="bold" text-anchor="start" fill="#231f20" >0.08 (0.73)</text>
<text transform="translate(603.60 476.40) rotate(0.03)" font-size="9.56" font-weight="bold" text-anchor="start" fill="#231f20" >0.51 (0.02)</text>
</g>
</svg>
</body>
</html>
